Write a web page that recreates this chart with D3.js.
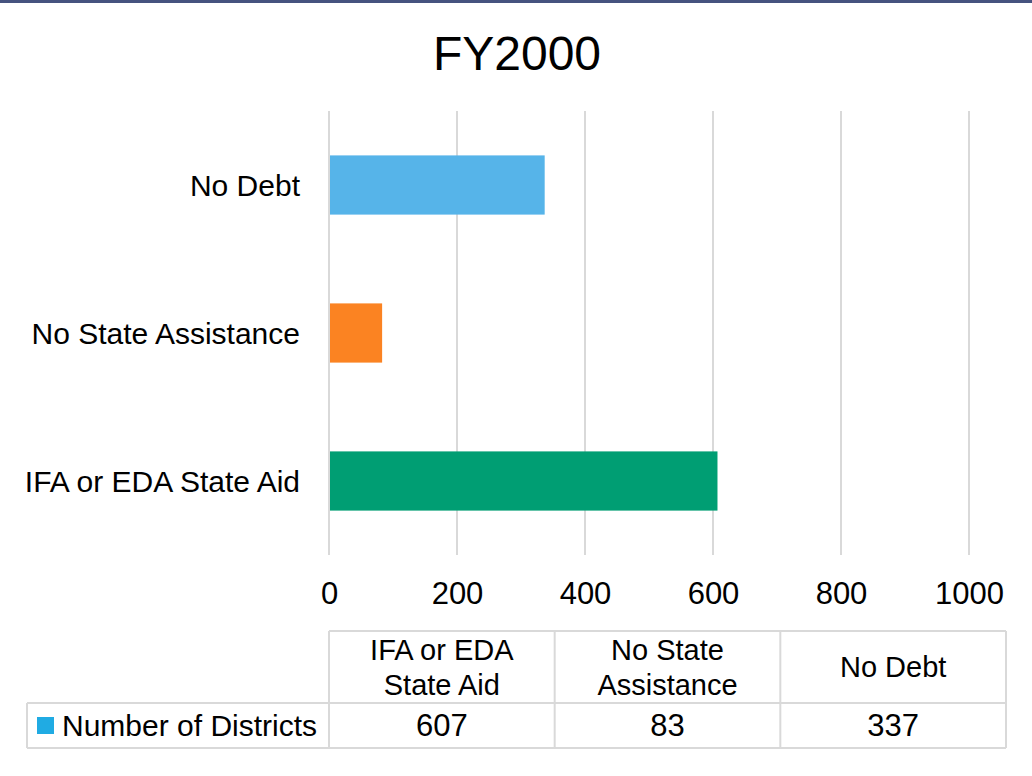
<!DOCTYPE html>
<html>
<head>
<meta charset="utf-8">
<script src="https://cdn.jsdelivr.net/npm/d3@7"></script>
<style>
  body { margin: 0; background: #fff; }
  svg text { font-family: "Liberation Sans", Arial, sans-serif; fill: #000; }
</style>
</head>
<body>
<div id="chart"></div>
<script>
// data
var categories = ['IFA or EDA State Aid', 'No State Assistance', 'No Debt'];
var headerLines = [['IFA or EDA', 'State Aid'], ['No State', 'Assistance'], ['No Debt']];
var districts = [607, 83, 337];
var barColors = ['#009e73', '#fb8322', '#56b4e9'];
var xTicks = [0, 200, 400, 600, 800, 1000];
var seriesName = 'Number of Districts';

var svgWidth = 1032, svgHeight = 776;

var margin = { top: 111, left: 329, right: 63, bottom: 221 };
var width = svgWidth - margin.left - margin.right,
    height = svgHeight - margin.top - margin.bottom;

var svg = d3.select('#chart').append('svg')
    .attr('width', svgWidth)
    .attr('height', svgHeight);

// top rule
svg.append('rect').attr('x', 0).attr('y', 0).attr('width', svgWidth).attr('height', 3).attr('fill', '#46537f');

svg.append('text')
    .attr('x', 517).attr('y', 70)
    .attr('text-anchor', 'middle')
    .style('font-size', '48px')
    .text('FY2000');

var chartGroup = svg.append('g')
    .attr('transform', `translate(${margin.left},${margin.top})`);

var xScale = d3.scaleLinear().domain([0, 1000]).range([0, width]);
// top to bottom is reversed order
var yScale = d3.scaleBand()
    .domain(categories.slice().reverse())
    .range([0, height])
    .paddingInner(0.6)
    .paddingOuter(0.3);

// gridlines
chartGroup.selectAll('.grid')
    .data(xTicks)
    .enter()
    .append('line')
    .attr('x1', d => xScale(d)).attr('x2', d => xScale(d))
    .attr('y1', 0).attr('y2', height)
    .attr('stroke', '#d9d9d9')
    .attr('stroke-width', 2);

chartGroup.selectAll('.bar')
    .data(categories)
    .enter()
    .append('rect')
    .attr('x', xScale(0) + 1)
    .attr('y', d => yScale(d))
    .attr('width', (d, i) => xScale(districts[i]) - xScale(0) - 1)
    .attr('height', yScale.bandwidth())
    .attr('fill', (d, i) => barColors[i]);

// category labels
chartGroup.selectAll('.cat')
    .data(categories)
    .enter()
    .append('text')
    .attr('x', -29)
    .attr('y', d => yScale(d) + yScale.bandwidth() / 2)
    .attr('dy', '0.35em')
    .attr('text-anchor', 'end')
    .style('font-size', '30px')
    .text(d => d);

// x tick labels
var xAxis = d3.axisBottom(xScale).tickValues(xTicks).tickSize(0).tickPadding(0).tickFormat(d3.format('d'));
var xAxisG = chartGroup.append('g')
    .attr('transform', `translate(0,${height})`)
    .call(xAxis);
xAxisG.select('.domain').remove();
xAxisG.selectAll('text')
    .attr('y', 49)
    .attr('dy', 0)
    .style('font-size', '31px')
    .style('font-family', '"Liberation Sans", Arial, sans-serif')
    .attr('fill', '#000');

// data table
var tableTop = 631, headerBottom = 703, tableBottom = 748, legendLeft = 27, tableRight = 1006;
var colScale = d3.scaleBand().domain(categories).range([margin.left, tableRight]);
var tbl = svg.append('g');
var borderColor = '#d9d9d9';

function hline(x1, x2, y) {
    tbl.append('line').attr('x1', x1).attr('x2', x2).attr('y1', y).attr('y2', y)
        .attr('stroke', borderColor).attr('stroke-width', 2);
}
function vline(x, y1, y2) {
    tbl.append('line').attr('x1', x).attr('x2', x).attr('y1', y1).attr('y2', y2)
        .attr('stroke', borderColor).attr('stroke-width', 2);
}
hline(margin.left, tableRight, tableTop);
hline(legendLeft, tableRight, headerBottom);
hline(legendLeft, tableRight, tableBottom);
vline(legendLeft, headerBottom, tableBottom);
categories.forEach(c => vline(colScale(c), tableTop, tableBottom));
vline(tableRight, tableTop, tableBottom);

categories.forEach((c, i) => {
    var cx = colScale(c) + colScale.bandwidth() / 2;
    var lines = headerLines[i];
    var midY = (tableTop + headerBottom) / 2;
    lines.forEach((t, j) => {
        tbl.append('text')
            .attr('x', cx)
            .attr('y', midY + (j - (lines.length - 1) / 2) * 35)
            .attr('dy', '0.35em')
            .attr('text-anchor', 'middle')
            .style('font-size', '29px')
            .text(t);
    });
    tbl.append('text')
        .attr('x', cx)
        .attr('y', (headerBottom + tableBottom) / 2)
        .attr('dy', '0.35em')
        .attr('text-anchor', 'middle')
        .style('font-size', '31px')
        .text(districts[i]);
});

// legend key
tbl.append('rect')
    .attr('x', 37).attr('y', 717).attr('width', 17).attr('height', 17)
    .attr('fill', '#20abe3');
tbl.append('text')
    .attr('x', 62).attr('y', (headerBottom + tableBottom) / 2)
    .attr('dy', '0.35em')
    .style('font-size', '30px')
    .text(seriesName);
</script>
</body>
</html>
